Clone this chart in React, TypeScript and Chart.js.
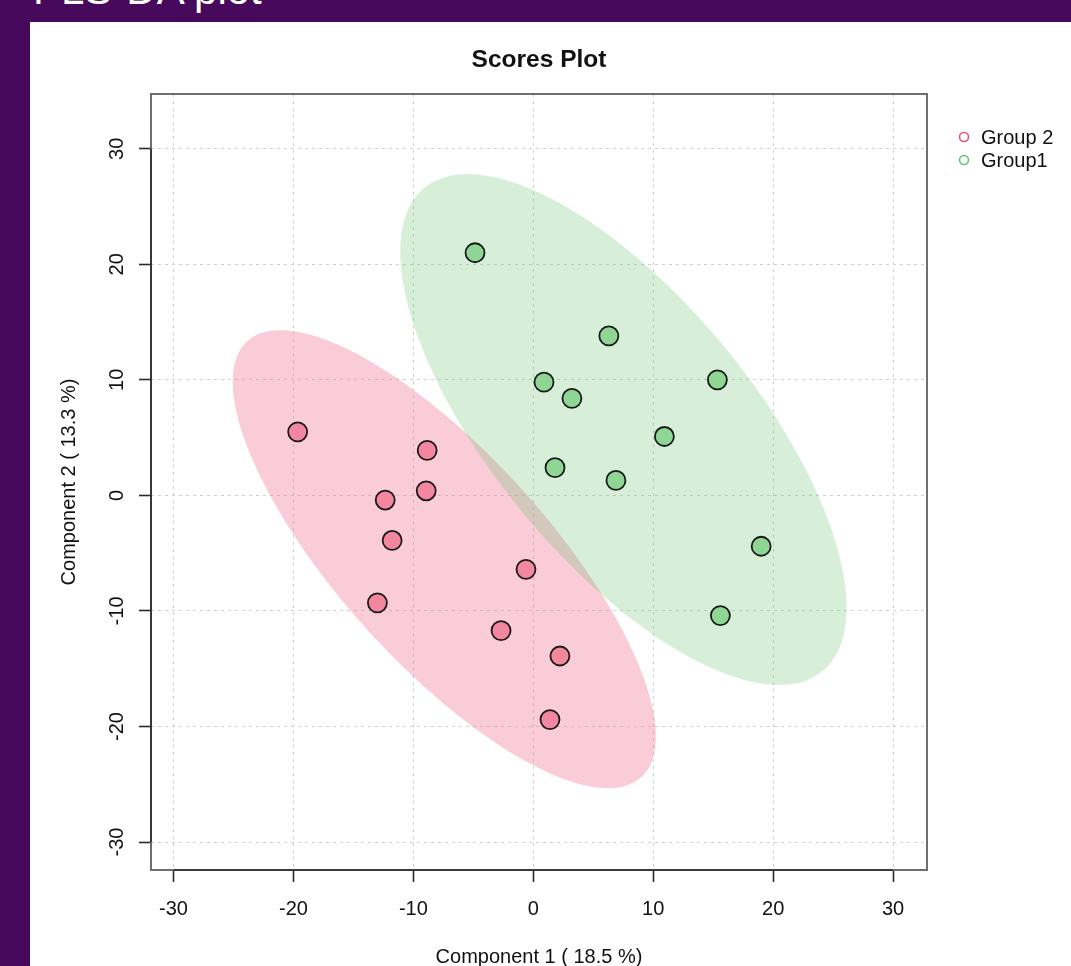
import React, { useEffect, useRef } from "react";
import { Chart, registerables } from "chart.js";

Chart.register(...registerables);

// ---- data ----
const groupNames = ["Group 2", "Group1"];
const group2X = [-19.65, -8.85, -12.35, -8.93, -11.77, -0.61, -13.0, -2.69, 2.22, 1.39];
const group2Y = [5.5, 3.9, -0.4, 0.4, -3.9, -6.4, -9.3, -11.7, -13.9, -19.4];
const group1X = [-4.86, 6.3, 0.89, 3.22, 15.35, 10.93, 1.81, 6.89, 19.0, 15.6];
const group1Y = [21.0, 13.8, 9.8, 8.4, 10.0, 5.1, 2.4, 1.3, -4.4, -10.4];
const tickValues = [-30, -20, -10, 0, 10, 20, 30];
const xRange = [-31.88, 32.83];
const yRange = [-32.42, 34.74];
const confidenceLevel = 0.95;
const chartTitle = "Scores Plot";
const xTitle = "Component 1 ( 18.5 %)";
const yTitle = "Component 2 ( 13.3 %)";
const pageHeading = "PLS-DA plot";

const FONT = "'Liberation Sans', Arial, Helvetica, sans-serif";
const PURPLE = "#46095b";

const styles = [
  { point: "#f2879f", ellipse: "rgba(240,115,148,0.36)", legend: "#e9557a" },
  { point: "#8fd694", ellipse: "rgba(100,188,108,0.26)", legend: "#62c867" },
];

// confidence ellipse computed from the group's points
function confidenceEllipse(xs: number[], ys: number[], level: number, n = 160) {
  const m = xs.length;
  const mx = xs.reduce((a, b) => a + b, 0) / m;
  const my = ys.reduce((a, b) => a + b, 0) / m;
  let sxx = 0, syy = 0, sxy = 0;
  for (let i = 0; i < m; i++) {
    const dx = xs[i] - mx, dy = ys[i] - my;
    sxx += dx * dx; syy += dy * dy; sxy += dx * dy;
  }
  sxx /= m - 1; syy /= m - 1; sxy /= m - 1;
  const t = Math.sqrt(-2 * Math.log(1 - level)); // sqrt(qchisq(level, 2))
  const tr = (sxx + syy) / 2;
  const d = Math.sqrt(((sxx - syy) / 2) ** 2 + sxy * sxy);
  const l1 = tr + d, l2 = Math.max(tr - d, 0);
  const theta = Math.atan2(l1 - sxx, sxy);
  const a = t * Math.sqrt(l1), b = t * Math.sqrt(l2);
  const pts: [number, number][] = [];
  for (let k = 0; k < n; k++) {
    const ang = (2 * Math.PI * k) / n;
    const u = a * Math.cos(ang), v = b * Math.sin(ang);
    pts.push([mx + u * Math.cos(theta) - v * Math.sin(theta), my + u * Math.sin(theta) + v * Math.cos(theta)]);
  }
  return pts;
}

const groupsXY = [
  [group2X, group2Y],
  [group1X, group1Y],
];

const ellipsePlugin = {
  id: "ellipses",
  beforeDatasetsDraw(chart: any) {
    const { ctx, chartArea, scales } = chart;
    ctx.save();
    ctx.beginPath();
    ctx.rect(chartArea.left, chartArea.top, chartArea.width, chartArea.height);
    ctx.clip();
    groupsXY.forEach(([xs, ys], gi) => {
      const pts = confidenceEllipse(xs, ys, confidenceLevel);
      ctx.beginPath();
      pts.forEach((p, i) => {
        const px = scales.x.getPixelForValue(p[0]);
        const py = scales.y.getPixelForValue(p[1]);
        if (i === 0) ctx.moveTo(px, py);
        else ctx.lineTo(px, py);
      });
      ctx.closePath();
      ctx.fillStyle = styles[gi].ellipse;
      ctx.fill();
    });
    ctx.restore();
  },
};

const framePlugin = {
  id: "frame",
  afterDraw(chart: any) {
    const { ctx, chartArea, scales } = chart;
    ctx.save();
    ctx.strokeStyle = "#6e6e6e";
    ctx.lineWidth = 2;
    ctx.strokeRect(chartArea.left, chartArea.top, chartArea.width, chartArea.height);
    ctx.strokeStyle = "#2a2a2a";
    ctx.lineWidth = 1.6;
    const x0 = scales.x.getPixelForValue(tickValues[0]);
    const x1 = scales.x.getPixelForValue(tickValues[tickValues.length - 1]);
    const y0 = scales.y.getPixelForValue(tickValues[0]);
    const y1 = scales.y.getPixelForValue(tickValues[tickValues.length - 1]);
    ctx.beginPath();
    ctx.moveTo(x0, chartArea.bottom);
    ctx.lineTo(x1, chartArea.bottom);
    ctx.moveTo(chartArea.left, y0);
    ctx.lineTo(chartArea.left, y1);
    ctx.stroke();

    // legend (outside the plot, top right)
    ctx.font = `20px ${FONT}`;
    ctx.textBaseline = "middle";
    ctx.textAlign = "left";
    groupNames.forEach((name, i) => {
      const cy = 137 + i * 23;
      const cx = chartArea.right + 37;
      ctx.beginPath();
      ctx.arc(cx, cy, 4.5, 0, Math.PI * 2);
      ctx.strokeStyle = styles[i].legend;
      ctx.lineWidth = 1.6;
      ctx.stroke();
      ctx.fillStyle = "#111";
      ctx.fillText(name, cx + 17, cy + 1);
    });
    ctx.restore();
  },
};

export default function App() {
  const canvasRef = useRef<HTMLCanvasElement | null>(null);

  useEffect(() => {
    if (!canvasRef.current) return;
    const gridCommon = {
      color: "#d0d0d0",
      lineWidth: 1,
      drawTicks: true,
      tickLength: 12,
      tickColor: "#2a2a2a",
      tickWidth: 1.6,
    };
    const chart = new Chart(canvasRef.current, {
      type: "scatter",
      data: {
        datasets: [
          {
            label: groupNames[0],
            data: group2X.map((x, i) => ({ x, y: group2Y[i] })),
            backgroundColor: styles[0].point,
            borderColor: "#1a1a1a",
            borderWidth: 1.8,
            pointRadius: 9.5,
            pointHoverRadius: 9.5,
          },
          {
            label: groupNames[1],
            data: group1X.map((x, i) => ({ x, y: group1Y[i] })),
            backgroundColor: styles[1].point,
            borderColor: "#1a1a1a",
            borderWidth: 1.8,
            pointRadius: 9.5,
            pointHoverRadius: 9.5,
          },
        ],
      },
      options: {
        animation: false,
        responsive: false,
        events: [],
        layout: { padding: { left: 0, top: 0, right: 144, bottom: 0 } },
        plugins: {
          legend: { display: false },
          tooltip: { enabled: false },
          title: {
            display: true,
            text: chartTitle,
            fullSize: false,
            color: "#111",
            font: { family: FONT, size: 24.5, weight: "bold", lineHeight: 1.2 },
            padding: { top: 45.3, bottom: 19.3 },
          },
        },
        scales: {
          x: {
            type: "linear",
            position: "bottom",
            min: xRange[0],
            max: xRange[1],
            afterBuildTicks: (s: any) => {
              s.ticks = tickValues.map((v) => ({ value: v }));
            },
            afterFit: (s: any) => {
              s.height = 110;
            },
            grid: gridCommon,
            border: { display: false, dash: [3, 4] },
            ticks: {
              autoSkip: false,
              maxRotation: 0,
              minRotation: 0,
              padding: 15,
              color: "#111",
              font: { family: FONT, size: 20, lineHeight: 1.2 },
            },
            title: {
              display: true,
              text: xTitle,
              color: "#111",
              font: { family: FONT, size: 20, lineHeight: 1.2 },
              padding: { top: 0, bottom: 11 },
            },
          },
          y: {
            type: "linear",
            position: "left",
            min: yRange[0],
            max: yRange[1],
            afterBuildTicks: (s: any) => {
              s.ticks = tickValues.map((v) => ({ value: v }));
            },
            afterFit: (s: any) => {
              s.width = 151;
            },
            grid: gridCommon,
            border: { display: false, dash: [3, 4] },
            ticks: {
              autoSkip: false,
              minRotation: 90,
              maxRotation: 90,
              crossAlign: "center",
              padding: 7.5,
              color: "#111",
              font: { family: FONT, size: 20, lineHeight: 1.2 },
            },
            title: {
              display: true,
              text: yTitle,
              color: "#111",
              font: { family: FONT, size: 20, lineHeight: 1.2 },
              padding: { top: 57, bottom: 0 },
            },
          },
        },
      } as any,
      plugins: [ellipsePlugin, framePlugin],
    });
    return () => chart.destroy();
  }, []);

  return (
    <div
      style={{
        position: "fixed",
        left: 0,
        top: 0,
        width: 1071,
        height: 966,
        overflow: "hidden",
        background: PURPLE,
      }}
    >
      <div
        style={{
          position: "absolute",
          left: 33,
          top: -31,
          color: "#ffffff",
          fontFamily: FONT,
          fontSize: 42,
          lineHeight: 1,
          whiteSpace: "nowrap",
        }}
      >
        {pageHeading}
      </div>
      <div
        style={{
          position: "absolute",
          left: 30,
          top: 22,
          right: 0,
          bottom: 0,
          background: "#ffffff",
        }}
      />
      <canvas
        ref={canvasRef}
        width={1071}
        height={980}
        style={{ position: "absolute", left: 0, top: 0, width: 1071, height: 980, display: "block" }}
      />
    </div>
  );
}
